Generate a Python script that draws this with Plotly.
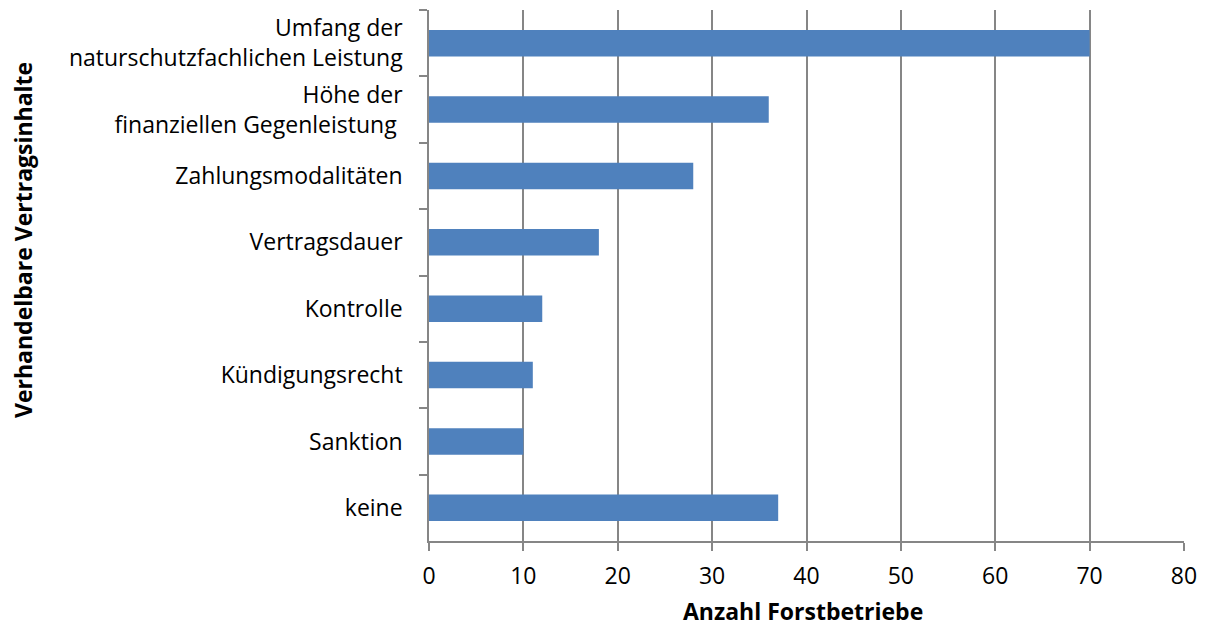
import plotly.graph_objects as go

categories = [
    "Umfang der<br>naturschutzfachlichen Leistung",
    "Höhe der<br>finanziellen Gegenleistung ",
    "Zahlungsmodalitäten",
    "Vertragsdauer",
    "Kontrolle",
    "Kündigungsrecht",
    "Sanktion",
    "keine",
]
values = [70, 36, 28, 18, 12, 11, 10, 37]
x_ticks = [0, 10, 20, 30, 40, 50, 60, 70, 80]

FONT = "'Open Sans', sans-serif"
GRAY = "#868686"

# page has an 8px body margin; size/margins compensate
W, H = 1197, 618
L, T, R, B = 421, 2, 21, 85
PW = W - L - R
PH = H - T - B

fig = go.Figure(go.Bar(
    x=values, y=categories, orientation="h",
    marker=dict(color="#4F81BD", line=dict(width=0)),
))

fig.update_layout(
    width=W, height=H,
    margin=dict(l=L, r=R, t=T, b=B),
    paper_bgcolor="white", plot_bgcolor="white",
    bargap=0.6,
    showlegend=False,
    font=dict(family=FONT, size=23, color="black"),
)
fig.update_xaxes(
    range=[0, 80], tickvals=x_ticks, showgrid=True, gridcolor=GRAY, gridwidth=1.5,
    zeroline=False, showline=True, linecolor=GRAY, linewidth=1.5,
    ticks="outside", ticklen=8, tickcolor=GRAY, tickwidth=1.5,
    tickfont=dict(size=23), ticklabelstandoff=6, automargin=False,
)
fig.update_yaxes(
    autorange="reversed", showgrid=False, zeroline=False,
    showline=True, linecolor=GRAY, linewidth=1.5,
    ticks="outside", ticklen=8, tickcolor=GRAY, tickwidth=1.5, tickson="boundaries",
    tickfont=dict(size=23), ticklabelstandoff=20, automargin=False,
)
# page coords -> figure coords: subtract 8
fig.add_annotation(
    text="<b>Verhandelbare Vertragsinhalte</b>", textangle=-90,
    xref="paper", yref="paper", x=(23 - 8 - L) / PW, y=(533 - (240 - 8)) / PH,
    xanchor="center", yanchor="middle", showarrow=False,
    font=dict(size=23),
)
fig.add_annotation(
    text="<b>Anzahl Forstbetriebe</b>",
    xref="paper", yref="paper", x=(803 - 8 - L) / PW, y=(533 - (611 - 8)) / PH,
    xanchor="center", yanchor="middle", showarrow=False,
    font=dict(size=23),
)
fig.write_html("out.html")
